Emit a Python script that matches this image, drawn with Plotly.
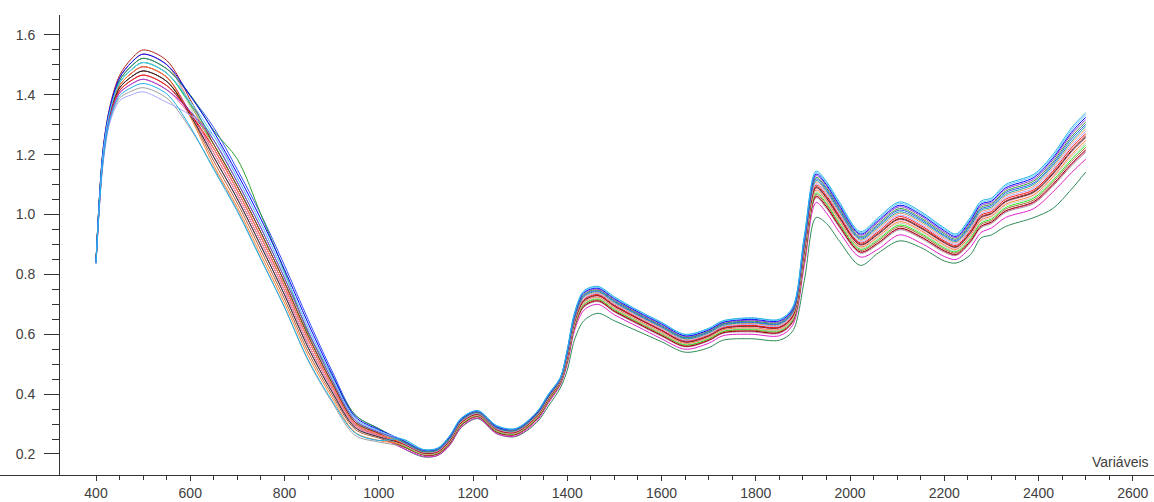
import plotly.graph_objects as go

wavelengths = [400, 415, 430, 450, 475, 500, 550, 600, 650, 700, 750, 800, 850, 900, 950, 1000,
               1050, 1095, 1125, 1150, 1175, 1210, 1250, 1290, 1335, 1360, 1385, 1400, 1415, 1435,
               1465, 1500, 1550, 1600, 1650, 1700, 1730, 1790, 1850, 1878, 1903, 1928, 1950, 1978,
               2022, 2060, 2105, 2150, 2200, 2225, 2255, 2278, 2300, 2330, 2390, 2430, 2470, 2500]

sample_darkgreen = [.839, 1.19, 1.332, 1.414, 1.448, 1.466, 1.431, 1.345, 1.234, 1.094, .94, .774, .596, .44, .306, .269,
    .22, .19, .195, .228, .288, .318, .268, .258, .305, .36, .42, .48, .58, .645, .67, .645, .61, .575, .54, .555, .58,
    .585, .58, .61, .78, .99, .97, .91, .83, .872, .912, .89, .845, .838, .865, .922, .932, .96, .99, 1.02, 1.085, 1.142]
sample_magenta = [.841, 1.20, 1.343, 1.431, 1.472, 1.494, 1.459, 1.339, 1.192, 1.052, .895, .732, .556, .41, .288, .257,
    .220, .192, .195, .228, .290, .320, .268, .260, .310, .370, .430, .500, .610, .680, .700, .665, .625, .585, .550, .570,
    .595, .600, .595, .630, .830, 1.040, 1.005, .940, .858, .885, .932, .905, .860, .850, .890, .940, .955, .990, 1.020,
    1.075, 1.140, 1.185]
sample_gray = [.836, 1.175, 1.316, 1.389, 1.412, 1.424, 1.389, 1.287, 1.155, 1.015, .853, .69, .512, .375, .262, .24,
    .225, .196, .199, .233, .295, .324, .272, .264, .315, .375, .434, .508, .619, .690, .709, .674, .633, .593, .558, .578,
    .603, .608, .603, .639, .845, 1.056, 1.021, .955, .871, .901, .949, .921, .874, .863, .905, .956, .970, 1.007, 1.037,
    1.094, 1.163, 1.208]
sample_hotpink = [.838, 1.185, 1.327, 1.406, 1.436, 1.452, 1.417, 1.332, 1.22, 1.08, .925, .76, .583, .43, .30, .265,
    .226, .197, .200, .234, .296, .325, .273, .265, .316, .376, .435, .509, .621, .692, .711, .676, .635, .595, .559, .579,
    .604, .610, .605, .641, .848, 1.059, 1.024, .958, .873, .904, .952, .924, .877, .865, .908, .959, .973, 1.010, 1.040,
    1.097, 1.167, 1.212]
sample_maroon = [.840, 1.195, 1.338, 1.423, 1.46, 1.48, 1.445, 1.339, 1.206, 1.066, .91, .746, .569, .42, .294, .261,
    .226, .197, .200, .234, .296, .325, .273, .265, .316, .376, .435, .510, .622, .693, .712, .677, .636, .596, .560, .580,
    .605, .611, .606, .642, .850, 1.061, 1.026, .960, .875, .906, .954, .926, .879, .867, .910, .961, .975, 1.012, 1.043,
    1.100, 1.170, 1.216]
sample_sienna = [.841, 1.20, 1.343, 1.431, 1.472, 1.494, 1.459, 1.332, 1.178, 1.038, .88, .718, .542, .40, .282, .253,
    .228, .198, .202, .236, .298, .327, .275, .267, .318, .378, .437, .513, .625, .697, .715, .680, .639, .599, .563, .583,
    .608, .614, .609, .645, .855, 1.067, 1.032, .965, .880, .912, .960, .932, .884, .872, .915, .967, .980, 1.018, 1.049,
    1.107, 1.178, 1.224]
sample_lime = [.842, 1.205, 1.349, 1.44, 1.484, 1.508, 1.473, 1.365, 1.234, 1.094, .94, .774, .596, .44, .306, .269,
    .229, .199, .203, .238, .299, .328, .276, .268, .319, .379, .438, .515, .628, .700, .718, .683, .642, .602, .565, .585,
    .610, .617, .612, .648, .860, 1.072, 1.037, .970, .884, .917, .965, .937, .889, .876, .920, .972, .985, 1.023, 1.055,
    1.113, 1.185, 1.232]
sample_lightgray = [.844, 1.215, 1.36, 1.457, 1.508, 1.536, 1.501, 1.358, 1.192, 1.052, .895, .732, .556, .41, .288, .257,
    .231, .200, .204, .239, .301, .329, .278, .269, .321, .381, .439, .518, .631, .703, .721, .686, .644, .604, .568, .588,
    .613, .619, .614, .651, .865, 1.077, 1.042, .975, .888, .922, .971, .942, .893, .880, .925, .977, .990, 1.029, 1.060,
    1.119, 1.193, 1.239]
sample_orange = [.841, 1.20, 1.343, 1.431, 1.472, 1.494, 1.459, 1.326, 1.164, 1.024, .865, .704, .529, .39, .272, .245,
    .232, .201, .205, .241, .302, .330, .279, .270, .322, .382, .440, .520, .634, .706, .724, .689, .647, .607, .570, .590,
    .615, .622, .617, .654, .870, 1.082, 1.047, .980, .892, .927, .976, .947, .898, .884, .930, .982, .995, 1.034, 1.066,
    1.125, 1.200, 1.247]
sample_pink = [.839, 1.19, 1.332, 1.414, 1.448, 1.466, 1.431, 1.332, 1.206, 1.066, .91, .746, .569, .42, .294, .261,
    .234, .202, .206, .242, .304, .331, .280, .271, .324, .384, .441, .523, .637, .709, .727, .692, .650, .610, .573, .593,
    .618, .625, .620, .657, .875, 1.087, 1.052, .985, .896, .932, .982, .952, .903, .888, .935, .987, 1.000, 1.040, 1.072,
    1.131, 1.208, 1.255]
sample_charcoal = [.840, 1.195, 1.338, 1.423, 1.46, 1.48, 1.445, 1.332, 1.192, 1.052, .895, .732, .556, .41, .288, .257,
    .235, .203, .207, .243, .305, .332, .281, .272, .325, .385, .442, .524, .639, .711, .729, .694, .652, .612, .574, .594,
    .619, .627, .622, .659, .878, 1.090, 1.055, .988, .899, .935, .985, .955, .906, .891, .938, .990, 1.003, 1.043, 1.075,
    1.135, 1.212, 1.259]
sample_darkred = [.845, 1.22, 1.365, 1.465, 1.52, 1.55, 1.515, 1.384, 1.234, 1.094, .94, .774, .596, .44, .306, .269,
    .235, .204, .208, .244, .305, .333, .282, .273, .325, .385, .443, .525, .640, .713, .730, .695, .653, .613, .575, .595,
    .620, .628, .623, .660, .880, 1.093, 1.058, .990, .901, .938, .987, .958, .908, .893, .940, .993, 1.005, 1.045, 1.078,
    1.138, 1.215, 1.263]
sample_red = [.839, 1.19, 1.332, 1.414, 1.448, 1.466, 1.431, 1.339, 1.22, 1.08, .925, .76, .583, .43, .30, .265,
    .237, .205, .209, .246, .307, .334, .283, .274, .327, .387, .444, .528, .643, .716, .733, .698, .655, .615, .578, .598,
    .623, .630, .625, .663, .885, 1.098, 1.063, .995, .905, .943, .993, .963, .912, .897, .945, .998, 1.010, 1.051, 1.083,
    1.144, 1.223, 1.270]
sample_lavender = [.835, 1.17, 1.31, 1.38, 1.40, 1.41, 1.375, 1.332, 1.262, 1.122, .97, .802, .623, .46, .318, .277,
    .238, .206, .210, .247, .308, .335, .284, .275, .328, .388, .445, .530, .646, .719, .736, .701, .658, .618, .580, .600,
    .625, .633, .628, .666, .890, 1.103, 1.068, 1.000, .909, .948, .998, .968, .917, .901, .950, 1.003, 1.015, 1.056, 1.089,
    1.150, 1.230, 1.278]
sample_salmon = [.844, 1.215, 1.36, 1.457, 1.508, 1.536, 1.501, 1.371, 1.22, 1.08, .925, .76, .583, .43, .30, .265,
    .240, .207, .212, .249, .310, .337, .286, .277, .330, .390, .447, .533, .649, .723, .739, .704, .661, .621, .583, .603,
    .628, .636, .631, .669, .895, 1.109, 1.074, 1.005, .914, .954, 1.004, .974, .922, .906, .955, 1.009, 1.020, 1.062, 1.095,
    1.157, 1.238, 1.286]
sample_teal = [.842, 1.205, 1.349, 1.44, 1.484, 1.508, 1.473, 1.371, 1.248, 1.108, .955, .788, .61, .45, .312, .273,
    .241, .208, .213, .250, .311, .338, .287, .278, .331, .391, .448, .535, .652, .726, .742, .707, .664, .624, .585, .605,
    .630, .639, .634, .672, .900, 1.114, 1.079, 1.010, .918, .959, 1.009, .979, .927, .910, .960, 1.014, 1.025, 1.067, 1.101,
    1.163, 1.245, 1.294]
sample_blue2 = [.843, 1.21, 1.354, 1.448, 1.496, 1.522, 1.487, 1.397, 1.29, 1.15, 1.00, .83, .65, .48, .33, .285,
    .243, .209, .214, .252, .313, .339, .288, .279, .333, .393, .449, .538, .655, .729, .745, .710, .666, .626, .588, .608,
    .633, .641, .636, .675, .905, 1.119, 1.084, 1.015, .922, .964, 1.015, .984, .931, .914, .965, 1.019, 1.030, 1.073, 1.106,
    1.169, 1.253, 1.301]
sample_green = [.843, 1.21, 1.354, 1.448, 1.496, 1.522, 1.487, 1.40, 1.28, 1.185, 1.0, .81, .605, .465, .33, .284,
    .244, .210, .215, .254, .314, .340, .290, .280, .334, .394, .450, .540, .658, .732, .748, .713, .669, .629, .590, .610,
    .635, .644, .639, .678, .910, 1.124, 1.089, 1.020, .926, .969, 1.020, .989, .936, .918, .970, 1.024, 1.035, 1.078, 1.112,
    1.175, 1.260, 1.309]
sample_purple = [.838, 1.185, 1.327, 1.406, 1.436, 1.452, 1.417, 1.345, 1.248, 1.108, .955, .788, .61, .45, .312, .273,
    .246, .212, .217, .256, .316, .342, .291, .282, .336, .396, .452, .543, .661, .736, .751, .716, .672, .632, .593, .613,
    .638, .647, .642, .681, .915, 1.130, 1.095, 1.025, .931, .975, 1.026, .995, .941, .923, .975, 1.030, 1.040, 1.084, 1.118,
    1.182, 1.268, 1.317]
sample_blue = [.844, 1.215, 1.36, 1.457, 1.508, 1.536, 1.501, 1.397, 1.276, 1.136, .985, .816, .637, .47, .324, .281,
    .247, .213, .218, .257, .317, .343, .292, .283, .337, .397, .453, .545, .664, .739, .754, .719, .675, .635, .595, .615,
    .640, .650, .645, .684, .920, 1.135, 1.100, 1.030, .935, .980, 1.031, 1.000, .946, .927, .980, 1.035, 1.045, 1.089, 1.124,
    1.188, 1.275, 1.325]
sample_skyblue = [.842, 1.205, 1.349, 1.44, 1.484, 1.508, 1.473, 1.378, 1.262, 1.122, .97, .802, .623, .46, .318, .277,
    .249, .214, .219, .259, .319, .344, .294, .284, .339, .399, .454, .548, .667, .742, .757, .722, .678, .638, .598, .618,
    .643, .653, .648, .687, .925, 1.140, 1.105, 1.035, .939, .985, 1.037, 1.005, .951, .931, .985, 1.040, 1.050, 1.095, 1.130,
    1.194, 1.283, 1.333]
sample_cyan = [.837, 1.18, 1.321, 1.397, 1.424, 1.438, 1.403, 1.293, 1.15, 1.01, .85, .69, .515, .38, .27, .245,
    .250, .215, .220, .260, .320, .345, .295, .285, .340, .400, .455, .550, .670, .745, .760, .725, .680, .640, .600, .620,
    .645, .655, .650, .690, .930, 1.145, 1.110, 1.040, .943, .990, 1.042, 1.010, .955, .935, .990, 1.045, 1.055, 1.100, 1.135,
    1.200, 1.290, 1.340]

series = [
    ("darkgreen", "#2E8B57", sample_darkgreen),
    ("magenta", "#E020C8", sample_magenta),
    ("gray", "#A0A0A0", sample_gray),
    ("hotpink", "#FF5AAA", sample_hotpink),
    ("maroon", "#8B0000", sample_maroon),
    ("sienna", "#B0603A", sample_sienna),
    ("lime", "#22EE22", sample_lime),
    ("lightgray", "#C8C8C8", sample_lightgray),
    ("orange", "#FF7F30", sample_orange),
    ("pink", "#FF9CC8", sample_pink),
    ("charcoal", "#303030", sample_charcoal),
    ("darkred", "#B02020", sample_darkred),
    ("red", "#FF1010", sample_red),
    ("lavender", "#A8A8FF", sample_lavender),
    ("salmon", "#F09070", sample_salmon),
    ("teal", "#10A8A0", sample_teal),
    ("blue2", "#3050FF", sample_blue2),
    ("green", "#30A030", sample_green),
    ("purple", "#9A40D0", sample_purple),
    ("blue", "#0000FF", sample_blue),
    ("skyblue", "#60C8FF", sample_skyblue),
    ("cyan", "#20B0E8", sample_cyan),
]
for n, c, v in series:
    if len(v) != len(wavelengths):
        raise ValueError(f"{n} has {len(v)} values")

x_major = [400, 600, 800, 1000, 1200, 1400, 1600, 1800, 2000, 2200, 2400, 2600]
x_minor = [v for v in range(450, 2600, 50) if v not in x_major]
y_major = [0.2, 0.4, 0.6, 0.8, 1.0, 1.2, 1.4, 1.6]
y_minor = [0.25, 0.3, 0.35, 0.45, 0.5, 0.55, 0.65, 0.7, 0.75, 0.85, 0.9, 0.95, 1.05, 1.1, 1.15,
           1.25, 1.3, 1.35, 1.45, 1.5, 1.55]

fig = go.Figure()
for n, c, v in series:
    fig.add_trace(go.Scatter(x=wavelengths, y=v, mode="lines", name=n,
                             line=dict(color=c, width=1, shape="spline", smoothing=0.9),
                             hoverinfo="skip"))

axis_color = "#333333"
fig.update_layout(
    width=1154, height=502,
    margin=dict(l=0, r=0, t=15, b=27),
    paper_bgcolor="white", plot_bgcolor="white",
    showlegend=False,
    font=dict(family="Liberation Sans, Arial, sans-serif", size=14, color="#404040"),
    xaxis=dict(range=[196.3, 2644.9], tickvals=x_major, ticktext=[str(v) for v in x_major],
               ticks="outside", ticklen=5, tickcolor=axis_color, tickwidth=1,
               showline=True, linecolor=axis_color, linewidth=1,
               showgrid=False, zeroline=False, automargin=False,
               minor=dict(tickvals=x_minor, ticks="outside", ticklen=4, tickcolor=axis_color, showgrid=False)),
    yaxis=dict(range=[0.1297, 1.6668], anchor="free", position=59/1154,
               tickvals=y_major, ticktext=[f"{v:.1f}" for v in y_major],
               ticks="outside", ticklen=15, tickcolor=axis_color, tickwidth=1,
               ticklabelstandoff=6,
               showline=True, linecolor=axis_color, linewidth=1,
               showgrid=False, zeroline=False, automargin=False,
               minor=dict(tickvals=y_minor, ticks="outside", ticklen=7, tickcolor=axis_color, showgrid=False)),
    annotations=[dict(text="Variáveis", xref="paper", yref="paper", x=1151/1154, y=13/460,
                      xanchor="right", yanchor="middle", showarrow=False,
                      font=dict(size=14, color="#404040"))],
)

fig.write_html("out.html", config={"displayModeBar": False},
               post_script="document.body.style.margin='0px';document.body.style.overflow='hidden';")
